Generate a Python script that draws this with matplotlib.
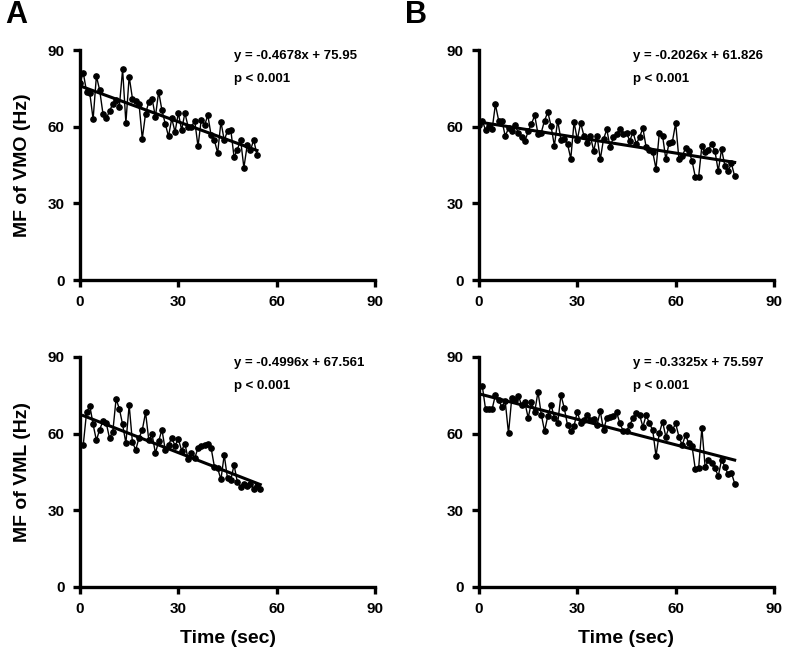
import matplotlib

matplotlib.use("Agg")
import matplotlib.pyplot as plt
import numpy as np

plt.rcParams["font.family"] = ["Liberation Sans", "DejaVu Sans"]
plt.rcParams["font.weight"] = "bold"

# Median frequency (Hz) per second
time_a_vmo = list(range(0, 55))
mf_a_vmo = [77.2, 81.1, 73.7, 73.0, 62.9, 79.8, 74.3, 65.1, 63.2, 66.0,
            69.0, 70.4, 67.8, 82.4, 61.5, 79.6, 71.0, 70.1, 69.0, 55.3,
            65.1, 69.7, 71.0, 63.8, 73.7, 66.4, 61.2, 56.2, 63.2, 57.9,
            65.4, 58.6, 65.4, 59.9, 59.9, 62.3, 52.3, 62.8, 60.5, 64.5,
            56.6, 54.7, 49.7, 61.9, 54.7, 58.3, 58.8, 48.1, 51.0, 54.9,
            43.9, 52.7, 50.7, 54.9, 48.8]

time_a_vml = list(range(1, 56))
mf_a_vml = [55.7, 68.3, 70.9, 63.6, 57.4, 61.6, 64.9, 64.2, 58.3, 60.7,
            73.5, 69.8, 63.6, 56.3, 71.2, 56.6, 53.7, 58.3, 61.4, 68.3,
            57.4, 59.7, 52.4, 57.0, 61.6, 53.7, 55.7, 58.3, 55.3, 57.9,
            53.4, 56.1, 50.0, 52.4, 50.4, 54.4, 55.0, 55.7, 56.1, 54.4,
            47.1, 46.4, 42.1, 51.7, 42.5, 41.8, 47.8, 41.1, 39.2, 40.5,
            39.6, 40.5, 38.5, 39.6, 38.5]

time_b_vmo = list(range(0, 79))
mf_b_vmo = [60.7, 62.4, 58.7, 60.4, 58.9, 68.7, 62.4, 62.4, 56.3, 59.4,
            58.2, 60.7, 57.5, 55.9, 54.3, 58.2, 61.1, 64.4, 57.1, 57.7,
            62.4, 65.7, 60.1, 52.5, 62.4, 54.9, 55.2, 53.2, 47.5, 61.8,
            54.9, 61.5, 56.5, 53.8, 56.2, 50.5, 56.5, 47.2, 55.2, 58.9,
            51.9, 55.8, 57.1, 59.1, 57.1, 57.5, 54.5, 57.8, 53.2, 56.0,
            59.4, 51.9, 51.0, 50.1, 43.5, 57.4, 56.5, 47.2, 53.8, 54.1,
            61.4, 47.2, 48.5, 51.5, 50.5, 46.6, 40.3, 40.3, 52.5, 49.9,
            50.9, 53.4, 50.3, 42.6, 51.2, 44.8, 42.6, 45.6, 40.6]

time_b_vml = list(range(1, 79))
mf_b_vml = [78.7, 69.6, 69.6, 69.6, 75.1, 73.1, 70.5, 72.7, 60.1, 74.1,
            73.1, 74.8, 71.2, 72.2, 66.2, 72.2, 68.6, 76.4, 67.5, 61.0,
            67.0, 71.2, 66.2, 64.0, 75.1, 70.1, 63.4, 61.0, 63.1, 68.6,
            64.0, 65.3, 67.5, 65.3, 65.7, 63.4, 68.8, 61.4, 66.2, 66.6,
            67.0, 68.3, 64.0, 61.0, 61.0, 63.5, 66.0, 67.9, 67.3, 62.7,
            67.3, 64.0, 61.4, 51.2, 60.1, 64.7, 58.8, 62.7, 61.4, 64.0,
            58.8, 55.5, 59.5, 56.2, 55.1, 46.0, 46.4, 62.3, 46.8, 49.7,
            48.6, 46.4, 43.4, 49.7, 47.1, 44.1, 44.7, 40.5]

# Regression (slope, intercept) as printed on each panel
fit_a_vmo = (-0.4678, 75.95)
fit_a_vml = (-0.4996, 67.561)
fit_b_vmo = (-0.2026, 61.826)
fit_b_vml = (-0.3325, 75.597)

ticks = [0, 30, 60, 90]

panels = [
    # (left px, top px, time, values, fit, eq text, ylabel)
    (80, 50, time_a_vmo, mf_a_vmo, fit_a_vmo, "y = -0.4678x + 75.95", "MF of VMO (Hz)", False),
    (479, 50, time_b_vmo, mf_b_vmo, fit_b_vmo, "y = -0.2026x + 61.826", None, False),
    (80, 357, time_a_vml, mf_a_vml, fit_a_vml, "y = -0.4996x + 67.561", "MF of VML (Hz)", True),
    (479, 357, time_b_vml, mf_b_vml, fit_b_vml, "y = -0.3325x + 75.597", None, True),
]

W, H = 787, 652
fig = plt.figure(figsize=(W / 100, H / 100), dpi=100)

for left, top, t, v, fit, eq, ylab, bottom_row in panels:
    ax = fig.add_axes([left / W, 1 - (top + 230) / H, 295 / W, 230 / H])
    ax.plot(t, v, color="black", lw=1.0, marker="o", ms=3.8, zorder=3)
    xf = np.array([min(t), max(t)])
    ax.plot(xf, fit[0] * xf + fit[1], color="black", lw=2.2, zorder=2)
    ax.set_xlim(0, 90)
    ax.set_ylim(0, 90)
    ax.set_xticks(ticks)
    ax.set_yticks(ticks)
    for s in ("top", "right"):
        ax.spines[s].set_visible(False)
    for s in ("left", "bottom"):
        ax.spines[s].set_linewidth(2.4)
    ax.tick_params(width=2.4, length=5, labelsize=11, pad=6)
    for lab in ax.get_xticklabels() + ax.get_yticklabels():
        lab.set_fontweight("bold")
    ax.text(47, 87.5, eq, fontsize=9.5, fontweight="bold", va="center")
    ax.text(47, 78.5, "p < 0.001", fontsize=9.5, fontweight="bold", va="center")
    if ylab:
        ax.set_ylabel(ylab, fontsize=14, fontweight="bold", labelpad=12)
    if bottom_row:
        ax.set_xlabel("Time (sec)", fontsize=14, fontweight="bold", labelpad=10)

fig.text(5 / W, 1 - 15 / H, "A", fontsize=22, fontweight="heavy", va="center")
fig.text(405 / W, 1 - 15 / H, "B", fontsize=22, fontweight="heavy", va="center")

fig.savefig("out.png", dpi=100)
